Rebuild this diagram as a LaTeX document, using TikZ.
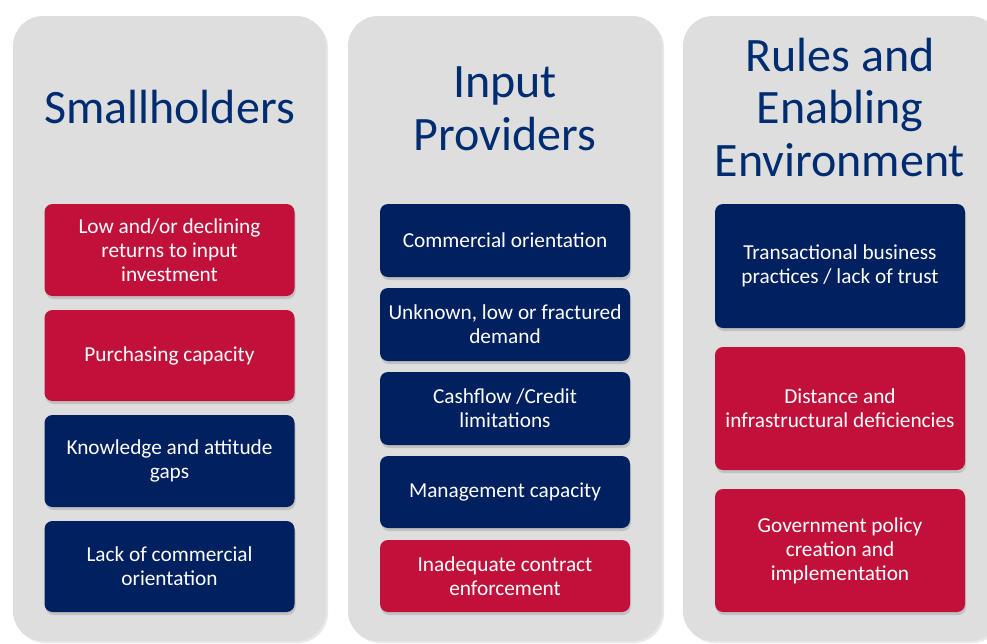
\documentclass[tikz,border=0pt]{standalone}
\usepackage{fontspec}
\setmainfont{Carlito}
\usetikzlibrary{shadows}
\definecolor{navybox}{RGB}{0,32,96}
\definecolor{redbox}{RGB}{193,17,58}
\definecolor{panelgray}{RGB}{222,222,222}
\definecolor{titleblue}{RGB}{0,45,114}
\begin{document}
\begin{tikzpicture}[x=1pt,y=-1pt,
  panel/.style={fill=panelgray, rounded corners=30pt,
    drop shadow={shadow xshift=2pt, shadow yshift=-2pt, opacity=0.18}},
  title/.style={text=titleblue, font=\fontsize{48}{52.5}\selectfont, align=center, inner sep=0pt},
  card/.style={rounded corners=8pt, minimum width=250pt, text=white, align=center,
    font=\fontsize{21.3}{24}\selectfont, inner sep=0pt,
    drop shadow={shadow xshift=1pt, shadow yshift=-3pt, opacity=0.3}},
  nb/.style={card, fill=navybox},
  rb/.style={card, fill=redbox}]
\useasboundingbox (0,0) rectangle (987,643);
\fill[white] (0,0) rectangle (987,643);
% panels
\path[panel] (13,16) rectangle (326,641);
\path[panel] (348,16) rectangle (662,641);
\path[panel] (683,16) rectangle (1000,641);
% titles (base = last line)
\node[title, anchor=base] (t1) at (169.5,123) {Smallholders};
\node[title, anchor=base] (t2) at (505,150) {Input\\Providers};
\node[title, anchor=base] (t3) at (840,176) {Rules and\\Enabling\\Environment};
% column 1
\node[rb, minimum height=92pt] (a1) at (169.5,250) {Low and/or declining\\returns to input\\investment};
\node[rb, minimum height=91pt] (a2) at (169.5,355.5) {Purchasing capacity};
\node[nb, minimum height=92pt] (a3) at (169.5,461) {Knowledge and attitude\\gaps};
\node[nb, minimum height=91pt] (a4) at (169.5,566.5) {Lack of commercial\\orientation};
% column 2
\node[nb, minimum height=73pt] (b1) at (505,240.5) {Commercial orientation};
\node[nb, minimum height=73pt] (b2) at (505,324.5) {Unknown, low or fractured\\demand};
\node[nb, minimum height=73pt] (b3) at (505,408.5) {Cashflow /Credit\\limitations};
\node[nb, minimum height=72pt] (b4) at (505,492) {Management capacity};
\node[rb, minimum height=72pt] (b5) at (505,576) {Inadequate contract\\enforcement};
% column 3
\node[nb, minimum height=124pt] (c1) at (840,266) {Transactional business\\practices / lack of trust};
\node[rb, minimum height=123pt] (c2) at (840,408.5) {Distance and\\infrastructural deficiencies};
\node[rb, minimum height=123pt] (c3) at (840,550.5) {Government policy\\creation and\\implementation};
\end{tikzpicture}
\end{document}
